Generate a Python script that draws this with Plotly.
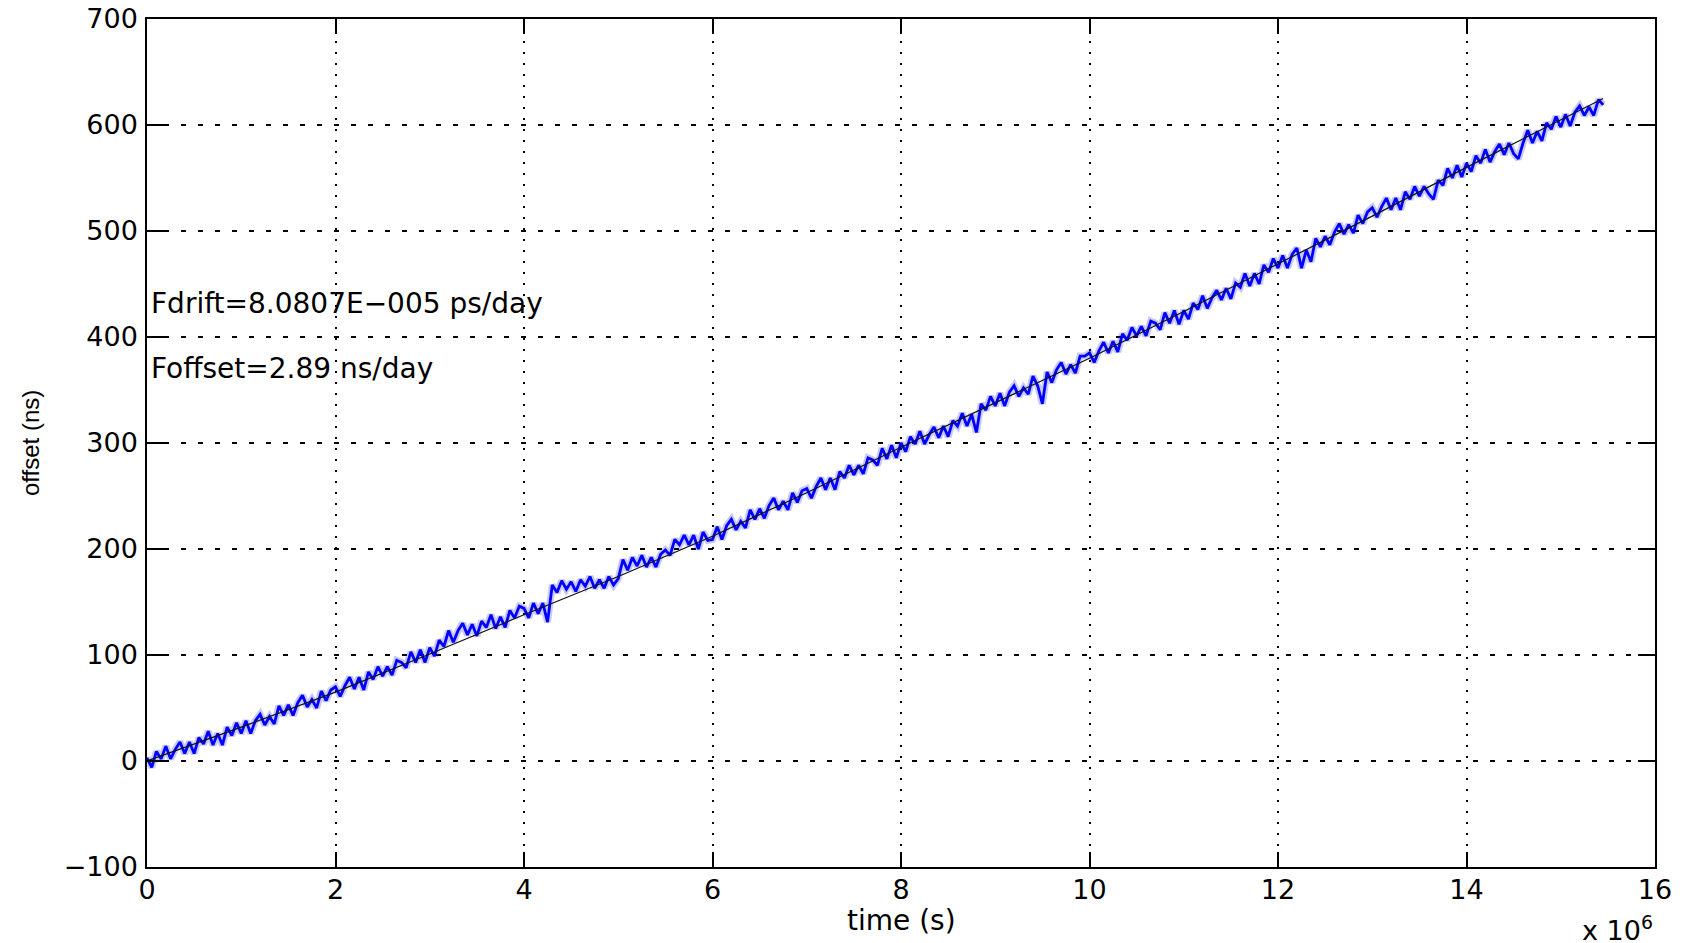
import plotly.graph_objects as go

# sampling grid (units of 1e6 s)
t_step_mega = 0.05
# measured clock offset (ns), 20 samples per 1e6 s
offset_ns = [
    3, -6, 9, 2, 14, 2, 11, 18, 7, 18, 7, 22, 16, 28, 15, 26, 15, 32, 24, 36,
    26, 38, 26, 38, 44, 34, 42, 35, 52, 43, 53, 43, 55, 62, 51, 58, 50, 66, 57, 67,
    70, 61, 71, 79, 68, 79, 67, 84, 77, 89, 80, 89, 81, 95, 93, 88, 103, 93, 105, 93,
    107, 99, 114, 108, 123, 112, 123, 130, 119, 129, 118, 132, 126, 138, 125, 136, 126, 142, 135, 146,
    144, 135, 149, 139, 149, 131, 166, 159, 170, 162, 169, 160, 171, 165, 174, 163, 171, 163, 174, 166,
    172, 190, 180, 192, 184, 194, 183, 192, 183, 195, 199, 194, 209, 204, 213, 204, 213, 200, 216, 208,
    209, 221, 209, 222, 228, 218, 226, 220, 237, 228, 238, 229, 241, 248, 237, 245, 237, 253, 244, 255,
    257, 248, 259, 267, 256, 267, 256, 273, 267, 279, 270, 279, 271, 286, 284, 279, 295, 285, 298, 286,
    300, 292, 306, 299, 311, 299, 308, 315, 305, 316, 306, 321, 316, 328, 316, 327, 310, 337, 331, 344,
    335, 347, 335, 348, 354, 344, 352, 346, 363, 354, 337, 367, 357, 369, 376, 365, 374, 366, 382, 382,
    385, 376, 387, 395, 385, 396, 386, 403, 397, 409, 401, 410, 401, 415, 413, 407, 423, 413, 425, 412,
    425, 417, 432, 426, 439, 427, 437, 444, 435, 446, 436, 451, 447, 460, 448, 460, 450, 468, 461, 474,
    465, 477, 465, 478, 484, 465, 482, 471, 493, 485, 495, 487, 499, 507, 497, 506, 498, 515, 507, 518,
    522, 513, 523, 531, 520, 531, 520, 537, 530, 542, 533, 542, 535, 530, 548, 543, 559, 550, 562, 551,
    564, 556, 571, 564, 577, 565, 575, 582, 572, 583, 573, 568, 583, 595, 583, 594, 585, 602, 596, 608,
    598, 610, 599, 612, 618, 609, 617, 609, 624, 619,
]

# fitted curve, read at these times (1e6 s)
fit_t_mega = [0, 1, 2, 3, 4, 5, 6, 7, 8, 9, 10, 11, 12, 13, 14, 15, 15.45]
fit_ns = [0, 32, 65, 101, 138, 174, 212, 253, 296, 338, 380, 424, 469, 514, 560, 605, 625]

x_tick_vals = [0, 2, 4, 6, 8, 10, 12, 14, 16]
x_tick_text = ["0", "2", "4", "6", "8", "10", "12", "14", "16"]
y_tick_vals = [-100, 0, 100, 200, 300, 400, 500, 600, 700]

text_drift = "Fdrift=8.0807E\u2212005 ps/day"
text_offset = "Foffset=2.89 ns/day"

time_s = [i * t_step_mega * 1e6 for i in range(len(offset_ns))]
fit_time_s = [v * 1e6 for v in fit_t_mega]

FONT = "DejaVu Sans"

fig = go.Figure()
# soft halo under the measured trace (the reference line looks blurred)
fig.add_trace(go.Scatter(x=time_s, y=offset_ns, mode="lines",
                         line=dict(color="rgba(40,40,255,0.25)", width=7), hoverinfo="skip"))
fig.add_trace(go.Scatter(x=time_s, y=offset_ns, mode="lines",
                         line=dict(color="#0000ff", width=2.8), hoverinfo="skip"))
fig.add_trace(go.Scatter(x=fit_time_s, y=fit_ns, mode="lines",
                         line=dict(color="#111111", width=1.2), hoverinfo="skip"))

axis_common = dict(showline=True, linecolor="black", linewidth=1.5, mirror="ticks",
                   ticks="inside", tickcolor="black", tickwidth=1.5,
                   showgrid=True, gridcolor="black", gridwidth=1.5, automargin=False,
                   ticklabeloverflow="allow",
                   zeroline=False, tickfont=dict(family=FONT, size=27, color="black"))

fig.update_xaxes(range=[0, 16e6], tickvals=[v * 1e6 for v in x_tick_vals], ticktext=x_tick_text,
                 ticklen=15, griddash="2px,9px", ticklabelstandoff=-2, **axis_common)
fig.update_yaxes(range=[-100, 700], tickvals=y_tick_vals, ticklen=17,
                 griddash="5px,12px", ticklabelstandoff=2, **axis_common)

annos = [
    dict(x=0.02e6, y=432, xref="x", yref="y", text=text_drift, showarrow=False,
         xanchor="left", yanchor="middle", font=dict(family=FONT, size=28, color="black")),
    dict(x=0.02e6, y=370, xref="x", yref="y", text=text_offset, showarrow=False,
         xanchor="left", yanchor="middle", font=dict(family=FONT, size=28, color="black")),
    dict(x=0.5, y=-0.0625, xref="paper", yref="paper", text="time (s)", showarrow=False,
         xanchor="center", yanchor="middle", font=dict(family=FONT, size=28, color="black")),
    dict(x=-0.0776, y=0.5, xref="paper", yref="paper", text="offset (ns)", showarrow=False,
         textangle=-90, xanchor="center", yanchor="middle",
         font=dict(family="Liberation Sans", size=24, color="black")),
    dict(x=1.0, y=-0.0495, xref="paper", yref="paper", text="x 10<sup>6</sup>", showarrow=False,
         xanchor="right", yanchor="top", font=dict(family=FONT, size=27, color="black")),
]

fig.update_layout(width=1683, height=943, margin=dict(l=139, r=36, t=11, b=84),
                  plot_bgcolor="white", paper_bgcolor="white", showlegend=False,
                  font=dict(family=FONT, size=27, color="black"), annotations=annos)

fig.write_html("out.html")
